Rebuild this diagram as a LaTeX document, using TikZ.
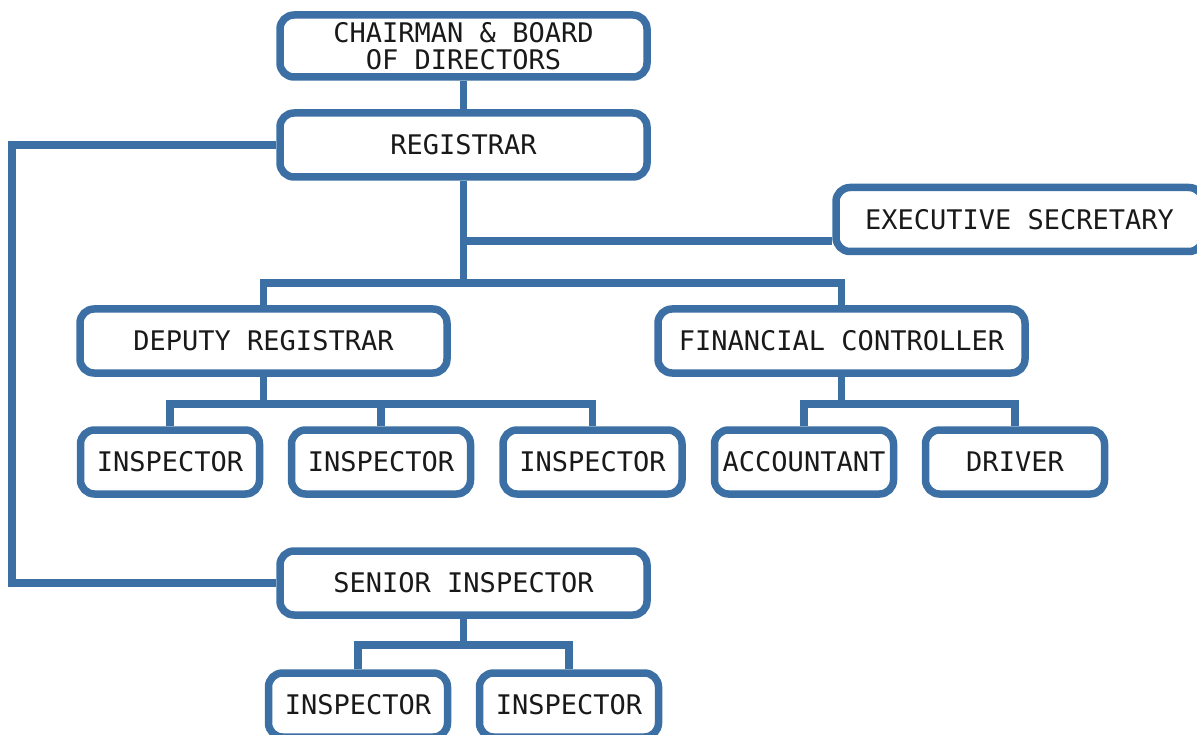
\documentclass[tikz,border=0pt]{standalone}
\usepackage{fontspec}
\setmonofont{DejaVu Sans Mono}
\definecolor{orgblue}{HTML}{3C70A4}
\begin{document}
\begin{tikzpicture}[x=1pt,y=-1pt,
  box/.style={draw=orgblue,line width=7.5pt,rounded corners=14pt,fill=white,
    minimum height=64pt,inner sep=0pt,align=center,
    font=\ttfamily\fontsize{27}{27}\selectfont,text=black!90},
  wide/.style={box,minimum width=367pt},
  small/.style={box,minimum width=179pt},
  link/.style={draw=orgblue,line width=7.5pt}]
\useasboundingbox (0,0) rectangle (1197,735);
\coordinate (rl) at (12,145);
\coordinate (sl) at (12,583);
\coordinate (jexec) at (463.5,241);
\coordinate (jtop) at (463.5,283);
\coordinate (jdl) at (263.5,283);
\coordinate (jfr) at (841.5,283);
\coordinate (jd) at (263.5,404);
\coordinate (jd1) at (170,404);
\coordinate (jd3) at (592.5,404);
\coordinate (jd2) at (381,404);
\coordinate (jf) at (841.5,404);
\coordinate (jf1) at (804,404);
\coordinate (jf2) at (1015,404);
\coordinate (js) at (463.5,645);
\coordinate (js1) at (358,645);
\coordinate (js2) at (569,645);

\node[wide,minimum height=62pt] (chair) at (463.5,46) {CHAIRMAN \& BOARD\\OF DIRECTORS};
\node[wide] (reg) at (463.5,145) {REGISTRAR};
\node[wide] (exec) at (1019.5,219.5) {EXECUTIVE SECRETARY};
\node[wide] (dep) at (263.5,341) {DEPUTY REGISTRAR};
\node[wide] (fin) at (841.5,341) {FINANCIAL CONTROLLER};
\node[small] (i1) at (170,462) {INSPECTOR};
\node[small] (i2) at (381,462) {INSPECTOR};
\node[small] (i3) at (592.5,462) {INSPECTOR};
\node[small] (acc) at (804,462) {ACCOUNTANT};
\node[small] (drv) at (1015,462) {DRIVER};
\node[wide] (sen) at (463.5,583) {SENIOR INSPECTOR};
\node[small] (b1) at (358,705) {INSPECTOR};
\node[small] (b2) at (569,705) {INSPECTOR};

\draw[link] (chair.south) -- (reg.north);
\draw[link] (reg.west) -- (rl) -- (sl) -- (sen.west);
\draw[link] (reg.south) -- (jtop);
\draw[link] (jexec) -- (exec.west |- jexec);
\draw[link] (dep.north) -- (jdl) -- (jfr) -- (fin.north);
\draw[link] (dep.south) -- (jd);
\draw[link] (i1.north) -- (jd1) -- (jd3) -- (i3.north);
\draw[link] (jd2) -- (i2.north);
\draw[link] (fin.south) -- (jf);
\draw[link] (acc.north) -- (jf1) -- (jf2) -- (drv.north);
\draw[link] (sen.south) -- (js);
\draw[link] (b1.north) -- (js1) -- (js2) -- (b2.north);
\end{tikzpicture}
\end{document}
